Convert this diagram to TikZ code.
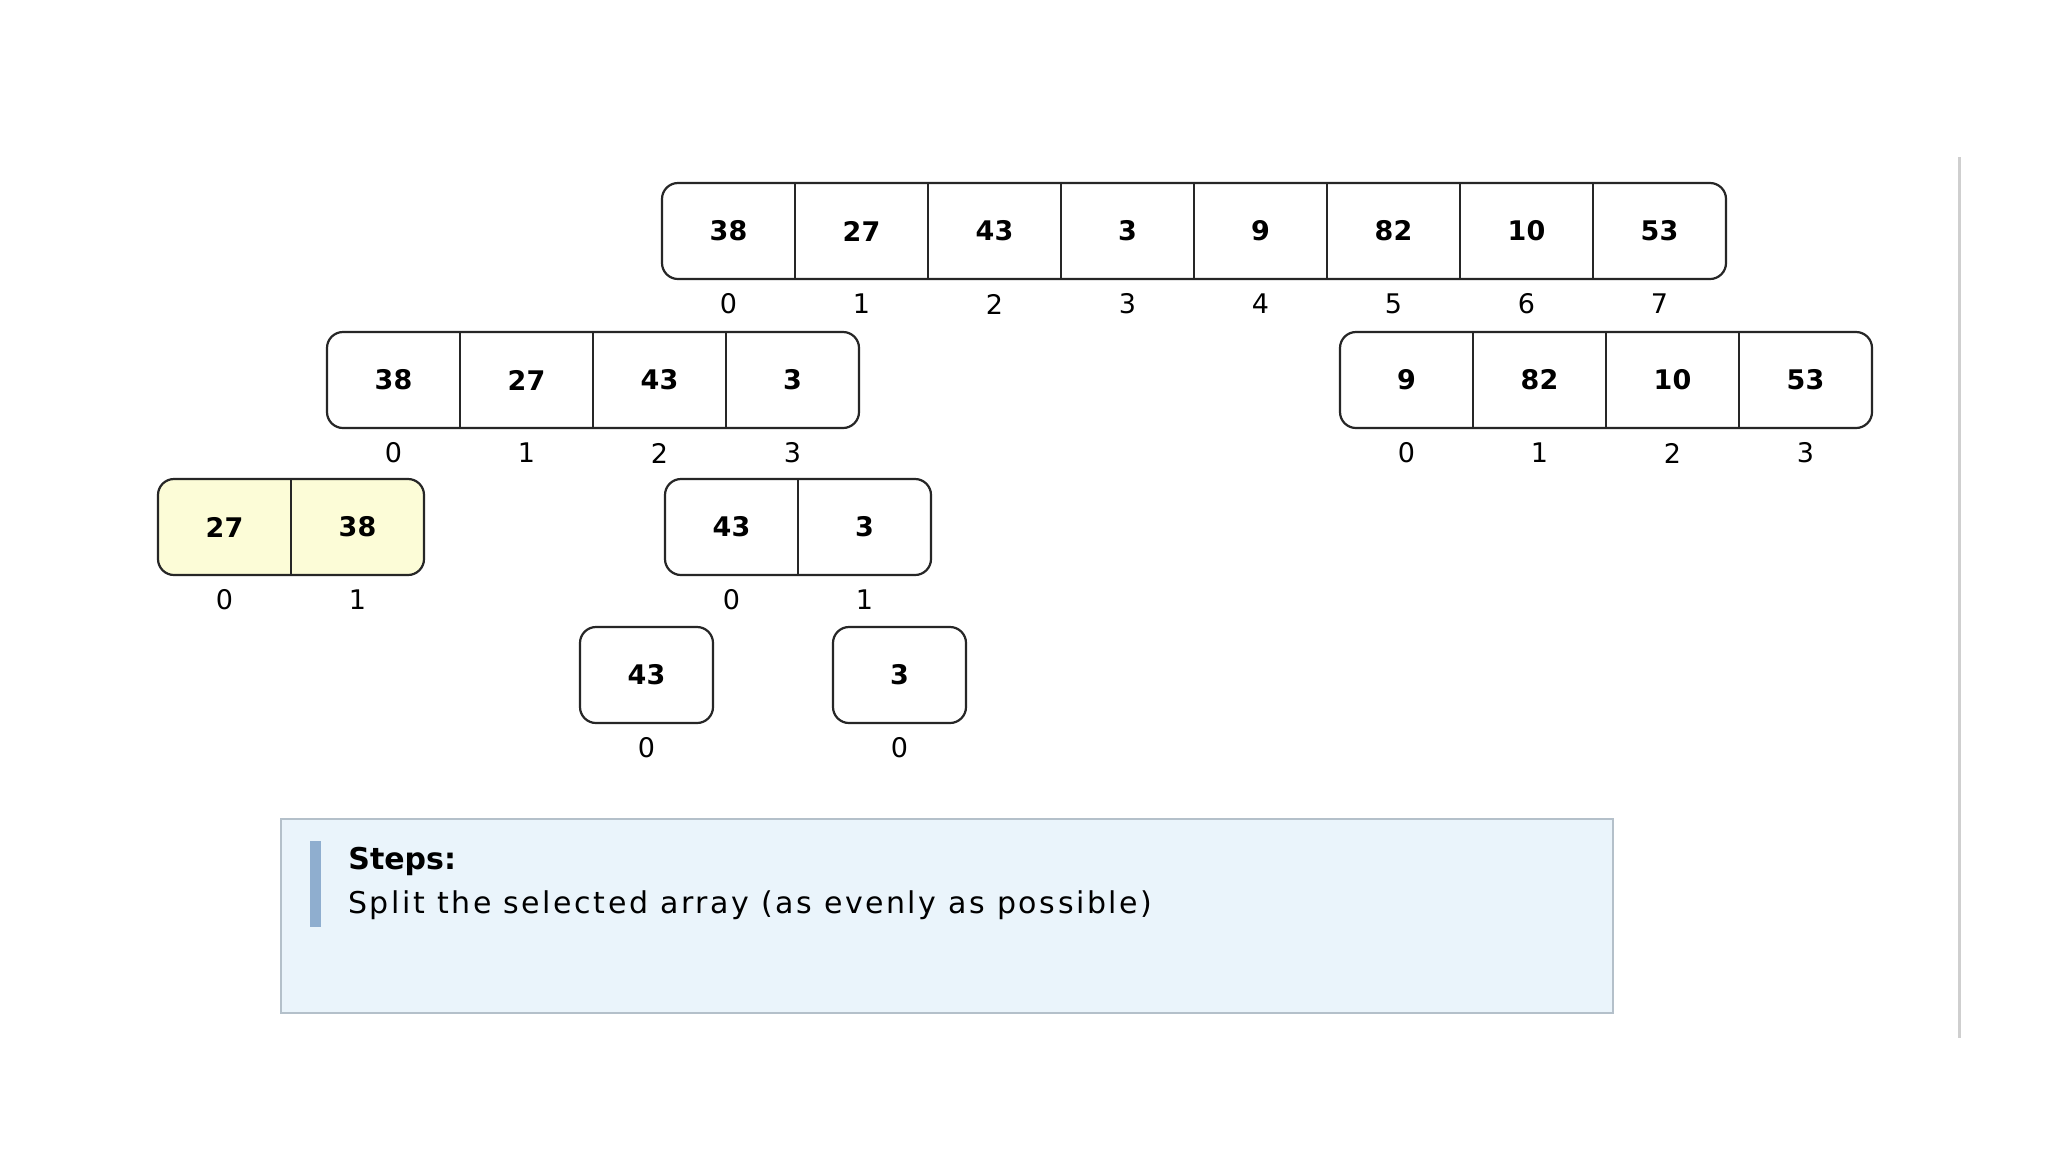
\documentclass[tikz,border=0pt]{standalone}
\usepackage{fontspec}
\setmainfont{DejaVu Sans}
\newfontfamily\stepsfont{DejaVu Sans}
\newfontfamily\stepswide[LetterSpace=8.5]{DejaVu Sans}
\definecolor{cellyellow}{HTML}{FCFCD7}
\definecolor{boxfill}{HTML}{EAF4FB}
\definecolor{boxdraw}{HTML}{B4C0CA}
\definecolor{barcol}{HTML}{8FAECF}
\definecolor{sidegray}{HTML}{CFCFCF}
\tikzset{
  arrframe/.style={draw=black!85, line width=1.1pt, rounded corners=8pt},
  divider/.style={draw=black!85, line width=1.1pt},
  val/.style={font=\fontsize{13.5}{16}\selectfont\bfseries, inner sep=0pt},
  idx/.style={font=\fontsize{13.5}{16}\selectfont, inner sep=0pt},
}
\newcommand{\drawarr}[5]{%
  \begin{scope}[shift={(#2,#3)}]
    \foreach \v [count=\i] in {#4} {\xdef\ncells{\i}}
    \path[arrframe, fill=#5] (0,0) rectangle (\ncells*133,96);
    \foreach \v [count=\i] in {#4} {
      \ifnum\i>1 \path[divider] ({(\i-1)*133},0) -- ({(\i-1)*133},96);\fi
      \node[val] (#1-\i) at ({(\i-0.5)*133},48) {\v};
      \pgfmathtruncatemacro{\k}{\i-1}
      \node[idx] (#1-i\i) at ({(\i-0.5)*133},121) {\k};
    }
  \end{scope}
}
\begin{document}
\begin{tikzpicture}[x=0.5pt,y=-0.5pt]
\useasboundingbox[fill=white] (0,0) rectangle (2048,1152);
\drawarr{A}{662}{183}{38,27,43,3,9,82,10,53}{white}
\drawarr{B}{327}{332}{38,27,43,3}{white}
\drawarr{C}{1340}{332}{9,82,10,53}{white}
\drawarr{D}{158}{479}{27,38}{cellyellow}
\drawarr{E}{665}{479}{43,3}{white}
\drawarr{F}{580}{627}{43}{white}
\drawarr{G}{833}{627}{3}{white}
% steps box
\path[fill=boxfill, draw=boxdraw, line width=1pt] (281,819) rectangle (1613,1013);
\path[fill=barcol] (310,841) rectangle (321,927);
\node[anchor=west, inner sep=0pt, font=\stepsfont\fontsize{15}{18}\selectfont\bfseries] (steps) at (348,861) {Steps:};
\node[anchor=west, inner sep=0pt, font=\stepswide\fontsize{15}{18}\selectfont] (split) at (348,905) {Split the selected array (as evenly as possible)};
% side rule
\path[draw=sidegray, line width=1.5pt] (1959,157) -- (1959,1038);
\end{tikzpicture}
\end{document}
